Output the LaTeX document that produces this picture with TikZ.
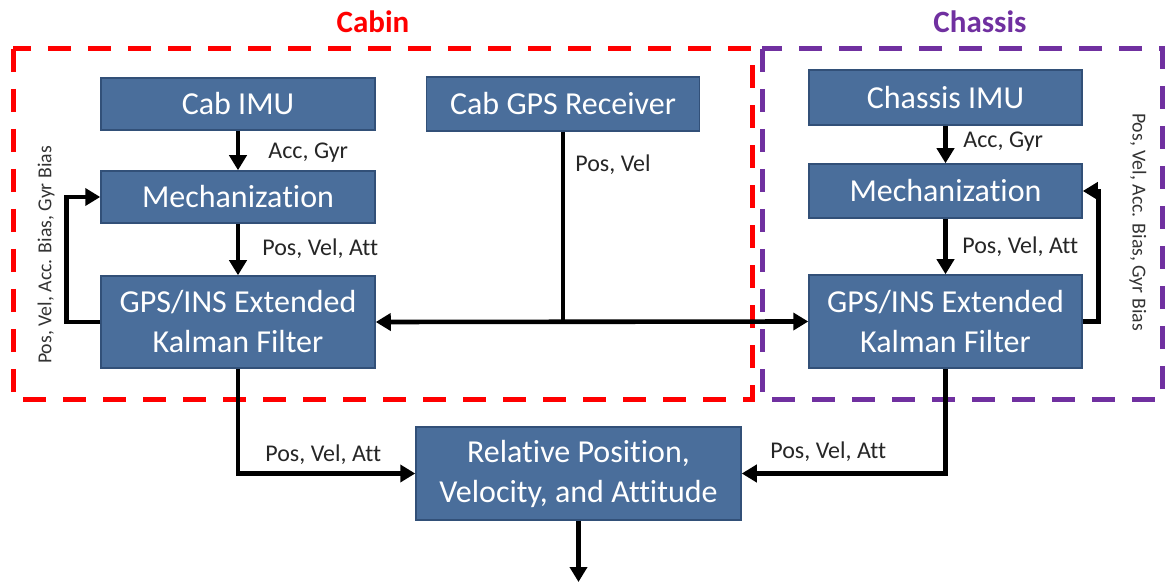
\documentclass[tikz,border=0pt]{standalone}
\usepackage{fontspec}
\setmainfont[RawFeature=-liga]{Carlito}
\usetikzlibrary{arrows.meta}
\definecolor{boxfill}{RGB}{74,110,155}
\definecolor{boxline}{RGB}{50,80,120}
\definecolor{cabred}{RGB}{255,0,0}
\definecolor{chpurple}{RGB}{112,48,160}
\tikzset{
  blk/.style={draw=boxline, line width=0.75pt, fill=boxfill, text=white, align=center,
    inner sep=0pt, font=\fontsize{16}{20}\selectfont},
  lbl/.style={inner sep=0pt, font=\fontsize{12}{14}\selectfont, text=black!85},
  rlbl/.style={inner sep=0pt, font=\fontsize{9.9}{12}\selectfont, text=black!80},
  ttl/.style={inner sep=0pt, font=\fontsize{15.5}{18}\selectfont\bfseries},
  conn/.style={line width=2.3pt, draw=black},
  arr/.style={conn, -{Triangle[length=7.5pt,width=8.5pt]}},
  darr/.style={conn, {Triangle[length=7.5pt,width=8.5pt]}-{Triangle[length=7.5pt,width=8.5pt]}},
  grp/.style={line width=2.5pt, dash pattern=on 11.5pt off 8.5pt}
}
\begin{document}
\begin{tikzpicture}[x=0.5pt,y=-0.5pt]
\useasboundingbox (0,0) rectangle (1165,582);
% group frames
\draw[grp, cabred] (13,49) rectangle (752,399);
\draw[grp, chpurple] (762,49) rectangle (1162,399);
\node[ttl, text=cabred] (tcab) at (373,22) {Cabin};
\node[ttl, text=chpurple] (tch) at (980,22) {Chassis};
% blocks
\node[blk, minimum width=137pt, minimum height=26pt] (imuL) at (238,104) {Cab IMU};
\node[blk, minimum width=137pt, minimum height=26pt] (mechL) at (238,197) {Mechanization};
\node[blk, minimum width=137pt, minimum height=46pt] (ekfL) at (238,322) {GPS/INS Extended\\Kalman Filter};
\node[blk, minimum width=136.5pt, minimum height=27pt] (gps) at (563,104) {Cab GPS Receiver};
\node[blk, minimum width=136.5pt, minimum height=27.5pt] (imuR) at (945.5,97.5) {Chassis IMU};
\node[blk, minimum width=136.5pt, minimum height=27pt] (mechR) at (945.5,191) {Mechanization};
\node[blk, minimum width=136.5pt, minimum height=46.5pt] (ekfR) at (945.5,321.5) {GPS/INS Extended\\Kalman Filter};
\node[blk, minimum width=162.5pt, minimum height=46.5pt] (rel) at (578.5,473.5) {Relative Position,\\Velocity, and Attitude};
\coordinate (out) at (578.5,582);
% connectors left
\draw[arr] (imuL) -- (mechL);
\draw[arr] (mechL) -- (ekfL);
\draw[arr] (ekfL.west) -- ++(-34,0) |- (mechL.west);
% connectors right
\draw[arr] (imuR) -- (mechR);
\draw[arr] (mechR) -- (ekfR);
\draw[arr] (ekfR.east) -- ++(16,0) |- (mechR.east);
% GPS
\draw[darr] (ekfL.east) -- (ekfR.west);
\draw[conn] (gps.south) -- (gps.south |- ekfL.east);
% bottom
\draw[arr] (ekfL.south) |- (rel.west);
\draw[arr] (ekfR.south) |- (rel.east);
\draw[arr] (rel.south) -- (out);
% labels
\node[lbl, anchor=west] (l1) at (268,153) {Acc, Gyr};
\node[lbl, anchor=west] (l2) at (262,249) {Pos, Vel, Att};
\node[lbl, anchor=west] (l3) at (575,165) {Pos, Vel};
\node[lbl, anchor=west] (l4) at (963,142) {Acc, Gyr};
\node[lbl, anchor=west] (l5) at (962,247) {Pos, Vel, Att};
\node[lbl, anchor=west] (l6) at (265,455) {Pos, Vel, Att};
\node[lbl, anchor=west] (l7) at (770,452) {Pos, Vel, Att};
\node[rlbl, rotate=90] (r1) at (46,255) {Pos, Vel, Acc. Bias, Gyr Bias};
\node[rlbl, rotate=-90] (r2) at (1138,222) {Pos, Vel, Acc. Bias, Gyr Bias};
\end{tikzpicture}
\end{document}
